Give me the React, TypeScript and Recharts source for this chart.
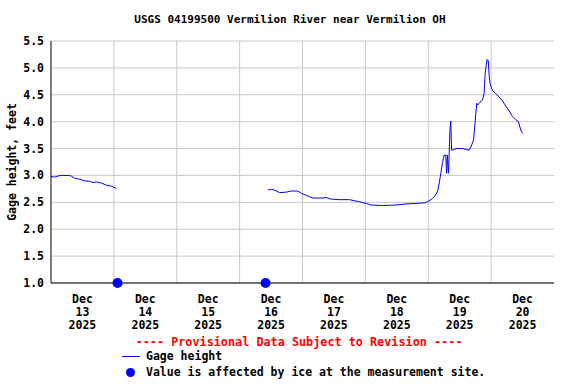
import React from 'react';
import { ComposedChart, Line, Scatter, XAxis, YAxis, CartesianGrid, ReferenceLine } from 'recharts';

// hours since Dec 13 2025 00:00, gage height in feet
const seg1Hours = [0, 1.4, 2.7, 3.9, 6.5, 7.7, 9, 10.9, 12.8, 14.7, 16, 17.3, 19.2, 21, 23, 24.9];
const seg1Values = [2.98, 2.97, 2.99, 3.0, 3.0, 2.99, 2.95, 2.93, 2.9, 2.89, 2.87, 2.88, 2.86, 2.82, 2.8, 2.76];

const seg2Hours = [
  82.8, 84.1, 85.3, 87.2, 89.8, 91.7, 94.2, 95.5, 97.4, 99.9, 103.7, 105, 106.9, 110.1, 113.9, 117.7,
  120.3, 122.2, 126.6, 131.7, 135.5, 139.3, 142.5, 143.7, 145.6, 146.9, 147.5, 148.2, 148.8, 149.2,
  149.4, 150.1, 150.7, 151.0, 151.3, 151.7, 152.0, 152.3, 152.6, 152.9, 153.3, 154.6, 157.1, 159.6,
  160.3, 161.3, 161.9, 162.5, 162.9, 163.7, 164.7, 165.3, 165.7, 166.4, 166.9, 167.2, 167.6, 168.5,
  169.8, 171, 172.3, 173.6, 174.9, 176.1, 177.4, 178.4, 179, 179.4, 180.1,
];
const seg2Values = [
  2.73, 2.74, 2.73, 2.68, 2.69, 2.71, 2.71, 2.67, 2.63, 2.58, 2.58, 2.59, 2.56, 2.55, 2.55, 2.51,
  2.48, 2.45, 2.44, 2.45, 2.47, 2.48, 2.49, 2.51, 2.57, 2.64, 2.7, 2.86, 3.04, 3.16,
  3.24, 3.38, 3.38, 3.04, 3.38, 3.04, 3.41, 3.87, 4.01, 3.47, 3.47, 3.5, 3.5, 3.47,
  3.53, 3.66, 4.0, 4.34, 4.31, 4.36, 4.4, 4.52, 4.89, 5.15, 5.14, 4.89, 4.71, 4.58,
  4.52, 4.46, 4.39, 4.29, 4.2, 4.1, 4.04, 4.0, 3.9, 3.83, 3.78,
];

const iceHours = [25.4, 81.9];
const iceValues = [1.0, 1.0];

const dayLabels = ['13', '14', '15', '16', '17', '18', '19', '20'];
const labelHours = [12, 36, 60, 84, 108, 132, 156, 180];
const midnightHours = [24, 48, 72, 96, 120, 144, 168];
const yTicks = [1.0, 1.5, 2.0, 2.5, 3.0, 3.5, 4.0, 4.5, 5.0, 5.5];

const lineData = [
  ...seg1Hours.map((h, i) => ({ h, v: seg1Values[i] as number | null })),
  { h: 50, v: null },
  ...seg2Hours.map((h, i) => ({ h, v: seg2Values[i] as number | null })),
];
const iceData = iceHours.map((h, i) => ({ h, v: iceValues[i] }));

const FONT = '"DejaVu Sans Mono", monospace';

const XTick = ({ x, y, payload }: any) => {
  const idx = labelHours.indexOf(payload.value);
  return (
    <text x={x} y={y + 12} textAnchor="middle" fontFamily={FONT} fontWeight="bold" fontSize={11.5} fill="#000">
      <tspan x={x} dy={0}>Dec</tspan>
      <tspan x={x} dy={13}>{dayLabels[idx]}</tspan>
      <tspan x={x} dy={13}>2025</tspan>
    </text>
  );
};

const YTick = ({ y, payload }: any) => (
  <text x={44} y={y + 4} textAnchor="end" fontFamily={FONT} fontWeight="bold" fontSize={11.5} fill="#000">
    {Number(payload.value).toFixed(1)}
  </text>
);

const IceDot = ({ cx, cy }: any) => <circle cx={cx} cy={cy} r={5} fill="#0000ff" />;

export default function App() {
  return (
    <div style={{ position: 'absolute', left: 0, top: 0, width: 576, height: 384, background: '#fff', fontFamily: FONT }}>
      <div style={{ position: 'absolute', left: 0, top: 13, width: 580, textAlign: 'center', fontSize: 11, fontWeight: 'bold' }}>
        USGS 04199500 Vermilion River near Vermilion OH
      </div>
      <svg style={{ position: 'absolute', left: 0, top: 0 }} width={30} height={384}>
        <text
          x={0}
          y={0}
          transform="translate(16 162) rotate(-90)"
          textAnchor="middle"
          fontFamily={FONT}
          fontWeight="bold"
          fontSize={11.5}
          fill="#000"
        >
          Gage height, feet
        </text>
      </svg>
      <ComposedChart width={576} height={384} margin={{ top: 41, right: 22, bottom: 0, left: 0 }}>
        <CartesianGrid vertical={false} stroke="#c8c8c8" />
        <XAxis
          dataKey="h"
          type="number"
          domain={[0, 192]}
          ticks={labelHours}
          tick={<XTick />}
          tickLine={false}
          axisLine={{ stroke: '#000' }}
          height={101}
          allowDuplicatedCategory={false}
        />
        <XAxis xAxisId="top" orientation="top" type="number" domain={[0, 192]} tick={false} tickLine={false} height={0} axisLine={{ stroke: '#000' }} />
        <YAxis
          dataKey="v"
          type="number"
          domain={[1, 5.5]}
          ticks={yTicks}
          tick={<YTick />}
          tickLine={false}
          axisLine={{ stroke: '#000' }}
          width={51}
        />
        <YAxis yAxisId="right" orientation="right" type="number" domain={[1, 5.5]} tick={false} tickLine={false} width={0} axisLine={{ stroke: '#000' }} />
        {midnightHours.map((h) => (
          <ReferenceLine key={h} x={h} stroke="#c8c8c8" />
        ))}
        <Line
          data={lineData}
          dataKey="v"
          type="linear"
          stroke="#0000ff"
          strokeWidth={1}
          dot={false}
          connectNulls={false}
          isAnimationActive={false}
        />
        <Scatter data={iceData} dataKey="v" shape={<IceDot />} isAnimationActive={false} />
      </ComposedChart>
      <div style={{ position: 'absolute', left: 0, top: 335, width: 598, textAlign: 'center', fontSize: 11.8, fontWeight: 'bold', color: '#ff0000' }}>
        ---- Provisional Data Subject to Revision ----
      </div>
      <div style={{ position: 'absolute', left: 122, top: 356, width: 18, height: 1, background: '#0000ff' }} />
      <div style={{ position: 'absolute', left: 146, top: 349, fontSize: 11.5, fontWeight: 'bold' }}>Gage height</div>
      <div style={{ position: 'absolute', left: 126, top: 368, width: 9, height: 9, borderRadius: '50%', background: '#0000ff' }} />
      <div style={{ position: 'absolute', left: 146, top: 365, fontSize: 11.5, fontWeight: 'bold' }}>Value is affected by ice at the measurement site.</div>
    </div>
  );
}
